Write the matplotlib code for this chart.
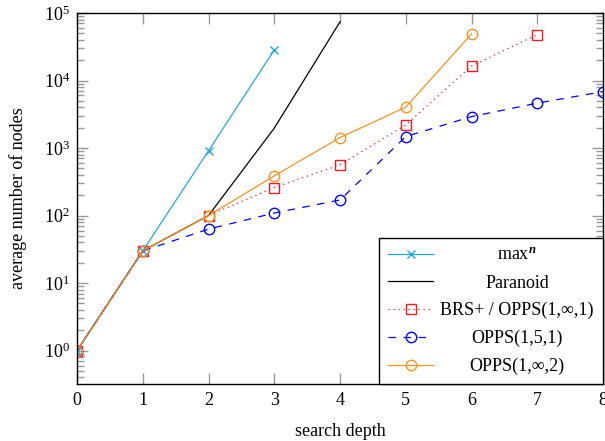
import numpy as np
import matplotlib
matplotlib.use("Agg")
import matplotlib.pyplot as plt
from matplotlib.ticker import LogLocator, NullFormatter

plt.rcParams['font.family'] = ['Liberation Serif', 'DejaVu Serif']
plt.rcParams['mathtext.fontset'] = 'custom'
plt.rcParams['mathtext.rm'] = 'Liberation Serif'
plt.rcParams['mathtext.it'] = 'Liberation Serif:italic'
plt.rcParams['mathtext.bf'] = 'Liberation Serif:bold'
plt.rcParams['mathtext.bfit'] = 'Liberation Serif:italic:bold'
plt.rcParams['font.size'] = 13

# data
depth_maxn = [0, 1, 2, 3]
nodes_maxn = [1, 30, 910, 28400]
depth_paranoid = [0, 1, 2, 3, 4]
nodes_paranoid = [1, 30, 100, 1970, 74000]
depth_brs = [0, 1, 2, 3, 4, 5, 6, 7]
nodes_brs = [1, 30, 100, 260, 565, 2200, 16400, 48000]
depth_opps151 = [0, 1, 2, 3, 4, 5, 6, 7, 8]
nodes_opps151 = [1, 30, 63, 109, 170, 1480, 2920, 4620, 6850]
depth_opps1inf2 = [0, 1, 2, 3, 4, 5, 6]
nodes_opps1inf2 = [1, 30, 100, 387, 1430, 4030, 49000]

c_cyan = '#1fa8e0'
c_orange = '#f7941d'
c_red = '#ee1c24'
c_blue = '#0000ff'

fig = plt.figure(figsize=(6.05, 4.41), dpi=100)
ax = fig.add_axes([0.1273, 0.1293, 0.8694, 0.8412])

lw = 0.9
ax.plot(depth_maxn, nodes_maxn, color=c_cyan, lw=lw, marker='x', ms=6,
        mew=1.0, label=r'max$^{\mathbfit{n}}$')
ax.plot(depth_paranoid, nodes_paranoid, color='black', lw=lw, label='Paranoid')
ax.plot(depth_brs, nodes_brs, color=c_red, lw=lw, ls=(0, (1, 3)), marker='s',
        ms=7.5, mfc='none', mew=1.0, label='BRS+ / OPPS(1,∞,1)')
ax.plot(depth_opps151, nodes_opps151, color=c_blue, lw=lw, ls=(0, (6, 6)),
        marker='o', ms=7.5, mfc='none', mew=1.0, label='OPPS(1,5,1)')
ax.plot(depth_opps1inf2, nodes_opps1inf2, color=c_orange, lw=lw, marker='o',
        ms=7.5, mfc='none', mew=1.0, label='OPPS(1,∞,2)')

ax.set_yscale('log')
ax.set_xlim(0, 8)
ax.set_ylim(0.32, 1e5)
ax.set_xticks(range(9))
ax.yaxis.set_major_locator(LogLocator(base=10, numticks=10))
ax.yaxis.set_minor_locator(LogLocator(base=10, subs=np.arange(2, 10), numticks=20))
ax.yaxis.set_minor_formatter(NullFormatter())

ax.tick_params(which='both', direction='in', top=True, right=True,
               color='#999999', width=1.0, labelsize=13)
ax.tick_params(which='major', length=8)
ax.tick_params(which='minor', length=5)
ax.tick_params(axis='x', pad=6)
ax.tick_params(axis='y', pad=5)
for s in ax.spines.values():
    s.set_linewidth(1.0)
    s.set_color('black')

ax.set_xlabel('search depth', fontsize=13, labelpad=10)
ax.set_ylabel('average number of nodes', fontsize=13, labelpad=12)

leg = ax.legend(loc='lower right', borderaxespad=0, fancybox=False,
                edgecolor='black', framealpha=1, handlelength=2.5,
                fontsize=13, labelspacing=0.58, borderpad=0.5,
                handletextpad=0.4)
leg.get_frame().set_linewidth(1.0)

# centre the legend labels like pgfplots does
r = fig.canvas.get_renderer()
widths = [t.get_window_extent(r).width for t in leg.get_texts()]
wmax = max(widths)
for t, w in zip(leg.get_texts(), widths):
    t.set_x((wmax - w) / 2)

fig.savefig('out.png', dpi=100)
